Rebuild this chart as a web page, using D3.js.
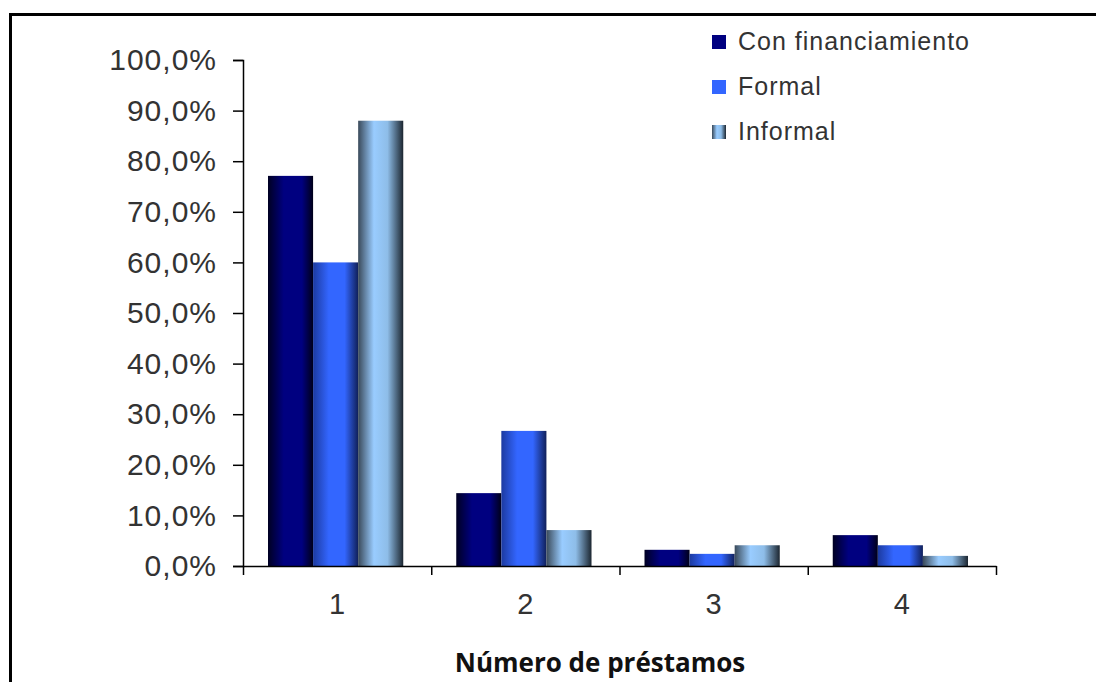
<!DOCTYPE html>
<html>
<head>
  <meta charset="utf-8">
  <title>Número de préstamos</title>
  <script src="https://d3js.org/d3.v7.min.js"></script>
  <style>
    body { margin: 0; background: #fff; }
  </style>
</head>
<body>
  <div id="chart"></div>

  <script>
    // Data
    const categories = ["1", "2", "3", "4"];
    const seriesNames = ["Con financiamiento", "Formal", "Informal"];
    const conFinanciamiento = [0.771, 0.144, 0.032, 0.061];
    const formal = [0.60, 0.267, 0.024, 0.041];
    const informal = [0.88, 0.071, 0.041, 0.020];
    const yTicks = [0, 0.1, 0.2, 0.3, 0.4, 0.5, 0.6, 0.7, 0.8, 0.9, 1.0];

    const series = [conFinanciamiento, formal, informal];
    const rows = categories.map((c, i) => ({
      cat: c,
      values: seriesNames.map((s, j) => ({ key: s, idx: j, value: series[j][i] }))
    }));

    const width = 1096, height = 682;
    const plot = { left: 243, right: 996, top: 60, bottom: 566 };

    const svg = d3.select("#chart")
                  .append("svg")
                  .attr("width", width)
                  .attr("height", height)
                  .style("font-family", "'Liberation Sans', Arial, sans-serif");

    // Gradients giving the bars their rounded look
    const gradStops = [
      [["0%", "#000022"], ["35%", "#000080"], ["75%", "#000080"], ["100%", "#000018"]],
      [["0%", "#1c3aa0"], ["35%", "#3366ff"], ["70%", "#3366ff"], ["100%", "#10205a"]],
      [["0%", "#3a4a5a"], ["35%", "#99ccff"], ["65%", "#8ebde8"], ["100%", "#1c2630"]]
    ];
    const defs = svg.append("defs");
    gradStops.forEach((stops, i) => {
      const g = defs.append("linearGradient")
                    .attr("id", "grad" + i)
                    .attr("x1", "0%").attr("x2", "100%")
                    .attr("y1", "0%").attr("y2", "0%");
      stops.forEach(s => g.append("stop").attr("offset", s[0]).attr("stop-color", s[1]));
    });
    const solid = ["#000080", "#3366ff", "#99ccff"];

    // Frame (left and top only)
    svg.append("path")
       .attr("d", `M10.5,${height} L10.5,14.5 L${width},14.5`)
       .attr("fill", "none")
       .attr("stroke", "#000")
       .attr("stroke-width", 3);

    // Scales
    const x0 = d3.scaleBand()
                 .domain(categories)
                 .range([plot.left, plot.right])
                 .padding(0);

    const x1 = d3.scaleBand()
                 .domain(seriesNames)
                 .range([25, x0.bandwidth() - 28])
                 .padding(0);

    const y = d3.scaleLinear()
                .domain([0, 1])
                .range([plot.bottom, plot.top]);

    // Bars
    const groups = svg.selectAll(".grp")
                      .data(rows)
                      .enter()
                      .append("g")
                      .attr("class", "grp")
                      .attr("transform", d => "translate(" + x0(d.cat) + ",0)");

    groups.selectAll("rect")
          .data(d => d.values)
          .enter()
          .append("rect")
          .attr("x", d => x1(d.key))
          .attr("width", x1.bandwidth())
          .attr("y", d => y(d.value))
          .attr("height", d => y(0) - y(d.value))
          .attr("fill", d => "url(#grad" + d.idx + ")");

    // Y axis
    const fmt = d => d3.format(".1f")(d * 100).replace(".", ",") + "%";
    const yAxis = svg.append("g")
       .attr("transform", "translate(" + plot.left + ",0)")
       .call(d3.axisLeft(y).tickValues(yTicks).tickFormat(fmt).tickSize(10).tickPadding(16));
    yAxis.select(".domain").attr("stroke", "#000").attr("stroke-width", 1.5);
    yAxis.selectAll(".tick line").attr("stroke", "#000").attr("stroke-width", 1.5);
    yAxis.selectAll(".tick text")
         .attr("fill", "#333")
         .style("font-size", "30px")
         .style("letter-spacing", "1px")
         .style("font-family", "'Liberation Sans', Arial, sans-serif");

    // X axis: boundary ticks
    const xb = d3.scaleLinear().domain([0, categories.length]).range([plot.left, plot.right]);
    const xAxis = svg.append("g")
       .attr("transform", "translate(0," + plot.bottom + ")")
       .call(d3.axisBottom(xb).ticks(categories.length).tickFormat("").tickSize(9).tickSizeOuter(0));
    xAxis.select(".domain").attr("stroke", "#000").attr("stroke-width", 1.5);
    xAxis.selectAll(".tick line").attr("stroke", "#000").attr("stroke-width", 1.5);

    // X axis: category labels
    const xLab = svg.append("g")
       .attr("transform", "translate(0," + plot.bottom + ")")
       .call(d3.axisBottom(x0).tickSize(0).tickPadding(27));
    xLab.select(".domain").remove();
    xLab.selectAll(".tick text")
        .attr("fill", "#333")
        .style("font-size", "29px")
        .style("font-family", "'Liberation Sans', Arial, sans-serif");

    // Axis title
    svg.append("text")
       .attr("x", 600)
       .attr("y", 672)
       .attr("text-anchor", "middle")
       .attr("fill", "#111")
       .style("font-family", "'Open Sans', 'DejaVu Sans', sans-serif")
       .style("font-weight", "bold")
       .style("font-size", "26px")
       .text("Número de préstamos");

    // Legend
    const legend = svg.append("g").attr("transform", "translate(712,0)");
    seriesNames.forEach((s, i) => {
      const yy = 41 + i * 45;
      legend.append("rect")
            .attr("x", 0).attr("y", yy - 6)
            .attr("width", 14).attr("height", 14)
            .attr("fill", i === 2 ? "url(#grad2)" : solid[i]);
      legend.append("text")
            .attr("x", 26).attr("y", yy + 9)
            .attr("fill", "#333")
            .style("font-size", "25px")
            .style("letter-spacing", "1px")
            .text(s);
    });
  </script>
</body>
</html>
